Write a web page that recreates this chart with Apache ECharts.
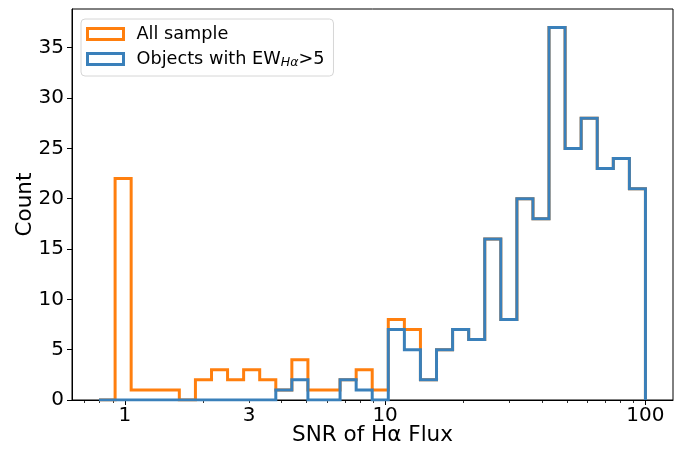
<!DOCTYPE html>
<html>
<head>
<meta charset="utf-8">
<script src="https://cdn.jsdelivr.net/npm/echarts@6/dist/echarts.min.js"></script>
<style>
html,body{margin:0;padding:0;background:#fff;}
#chart{width:691px;height:450px;}
</style>
</head>
<body>
<div id="chart"></div>
<script>
// Histogram bin edges (SNR, log-spaced)
const binEdges = [0.796, 0.918, 1.058, 1.219, 1.406, 1.620, 1.868, 2.154, 2.482, 2.861, 3.298,
  3.803, 4.383, 5.052, 5.825, 6.714, 7.741, 8.922, 10.285, 11.858, 13.668, 15.759, 18.163,
  20.940, 24.138, 27.823, 32.077, 36.975, 42.617, 49.131, 56.627, 65.294, 75.265, 86.765, 100.0];
// Counts per bin
const allSample = [0, 22, 1, 1, 1, 0, 2, 3, 2, 3, 2, 1, 4, 1, 1, 2, 3, 1, 8, 7, 2, 5, 7, 6, 16, 8, 20, 18, 37, 25, 28, 23, 24, 21];
const ewSample  = [0, 0, 0, 0, 0, 0, 0, 0, 0, 0, 0, 1, 2, 0, 0, 2, 1, 0, 7, 5, 2, 5, 7, 6, 16, 8, 20, 18, 37, 25, 28, 23, 24, 21];
// Axis ticks
const xLabelTicks = [1, 3, 10, 100];
const xMajorTicks = [1, 10, 100];
const xMinorTicks = [0.7, 0.8, 0.9, 2, 3, 4, 5, 6, 7, 8, 9, 20, 30, 40, 50, 60, 70, 80, 90];
const yTicks = [0, 5, 10, 15, 20, 25, 30, 35];
const seriesNames = ['All sample', 'Objects with EW_Hα>5'];

function stepPoints(edges, counts) {
  const pts = [[edges[0], 0]];
  for (let i = 0; i < counts.length; i++) {
    pts.push([edges[i], counts[i]]);
    pts.push([edges[i + 1], counts[i]]);
  }
  pts.push([edges[counts.length], 0]);
  return pts;
}

const FONT = 'DejaVu Sans';
const XMIN = 0.627, XMAX = 127.6;
const chart = echarts.init(document.getElementById('chart'), null, {renderer: 'canvas'});
const orange = '#ff7f0e', blue = '#3a80ba';

chart.setOption({
  animation: false,
  backgroundColor: '#fff',
  grid: {left: 72, right: 18, top: 9, bottom: 50, show: true, borderColor: '#000', borderWidth: 1,
    backgroundColor: 'transparent', containLabel: false, outerBoundsMode: 'none'},
  legend: {
    left: 81, top: 19, orient: 'vertical',
    padding: [5, 9, 7, 5], itemGap: 5, itemWidth: 36, itemHeight: 11,
    backgroundColor: 'rgba(255,255,255,0.8)', borderColor: '#d6d6d6', borderWidth: 1, borderRadius: 4,
    data: [
      {name: seriesNames[0], icon: 'rect', itemStyle: {color: 'rgba(255,255,255,0)', borderColor: orange, borderWidth: 3}},
      {name: seriesNames[1], icon: 'rect', itemStyle: {color: 'rgba(255,255,255,0)', borderColor: blue, borderWidth: 3}}
    ],
    formatter: function (name) {
      if (name === seriesNames[1]) return '{t|Objects with EW}{sub|Hα}{t|>5}';
      return '{t|' + name + '}';
    },
    textStyle: {
      fontFamily: FONT, fontSize: 17.7, lineHeight: 20, color: '#000', padding: [0, 0, 0, 8],
      rich: {
        t: {fontFamily: FONT, fontSize: 17.7, lineHeight: 20, color: '#000'},
        sub: {fontFamily: FONT, fontSize: 12.5, lineHeight: 8, verticalAlign: 'bottom', fontStyle: 'italic', color: '#000'}
      }
    }
  },
  xAxis: [
    {
      type: 'log', logBase: 10, min: XMIN, max: XMAX,
      name: 'SNR of Hα Flux', nameLocation: 'middle', nameGap: 24, nameMoveOverlap: false,
      nameTextStyle: {fontFamily: FONT, fontSize: 21.5, color: '#000'},
      axisLine: {show: true, onZero: false, lineStyle: {color: '#000', width: 1}},
      axisTick: {show: true, length: 5, lineStyle: {color: '#000', width: 1}, customValues: xMajorTicks},
      axisLabel: {show: true, margin: 6, fontFamily: FONT, fontSize: 20, color: '#000', customValues: xLabelTicks,
        formatter: function (v) { return String(Math.round(v)); }},
      splitLine: {show: false}, minorTick: {show: false}
    },
    {
      type: 'log', logBase: 10, min: XMIN, max: XMAX, position: 'bottom',
      axisLine: {show: false},
      axisTick: {show: true, length: 3, lineStyle: {color: '#000', width: 0.8}, customValues: xMinorTicks},
      axisLabel: {show: false},
      splitLine: {show: false}
    }
  ],
  yAxis: {
    type: 'value', min: 0, max: 38.85,
    name: 'Count', nameLocation: 'middle', nameGap: 36, nameRotate: 90, nameMoveOverlap: false,
    nameTextStyle: {fontFamily: FONT, fontSize: 21.5, color: '#000'},
    axisLine: {show: true, lineStyle: {color: '#000', width: 1}},
    axisTick: {show: true, length: 5, lineStyle: {color: '#000', width: 1}, customValues: yTicks},
    axisLabel: {show: true, margin: 8, fontFamily: FONT, fontSize: 20, color: '#000', customValues: yTicks},
    splitLine: {show: false}
  },
  series: [
    {
      name: seriesNames[0], type: 'line', xAxisIndex: 0, data: stepPoints(binEdges, allSample),
      showSymbol: false, symbol: 'none', color: orange,
      lineStyle: {color: orange, width: 3, join: 'miter', cap: 'butt'}, silent: true
    },
    {
      name: seriesNames[1], type: 'line', xAxisIndex: 0, data: stepPoints(binEdges, ewSample),
      showSymbol: false, symbol: 'none', color: blue,
      lineStyle: {color: blue, width: 3, join: 'miter', cap: 'butt'}, silent: true
    }
  ]
});
</script>
</body>
</html>
